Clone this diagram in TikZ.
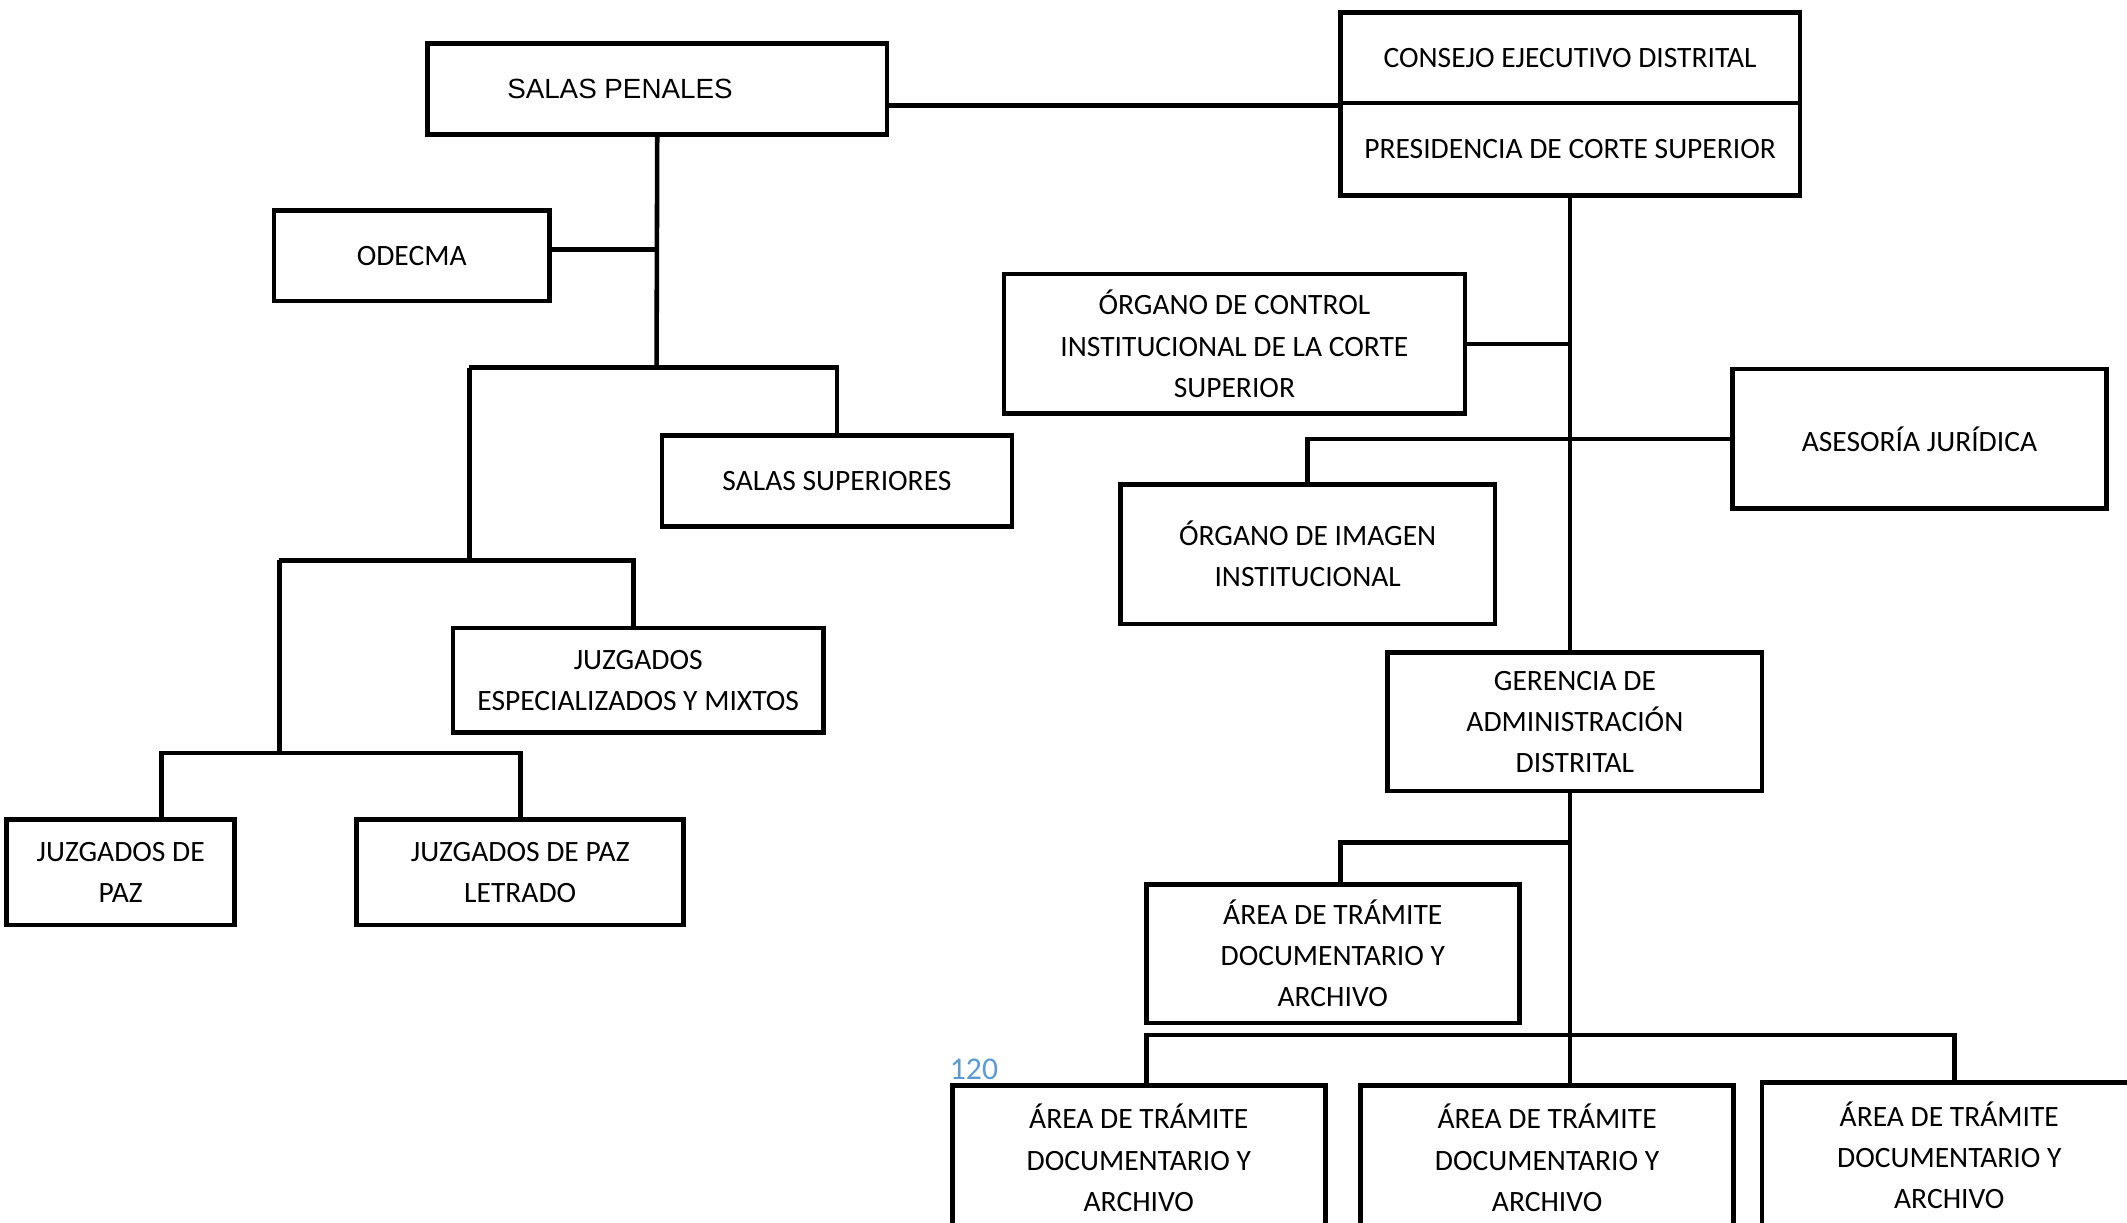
\documentclass[tikz,border=0pt]{standalone}
\usepackage{fontspec}
\setmainfont{Carlito}
\newfontfamily\arialf{Liberation Sans}
\newdimen\px \px=0.013565cm
\definecolor{numblue}{HTML}{5B9BD5}
\tikzset{
  box/.style={draw, line width=1.3pt, inner sep=0pt, align=center,
    font=\fontsize{8.4}{11.7}\selectfont},
  conn/.style={line width=1.3pt},
}
\begin{document}
\begin{tikzpicture}[x=0.013565cm,y=-0.013565cm]
\useasboundingbox (0,0) rectangle (1568,901);
\begin{scope}
\clip (0,0) rectangle (1568,901);
% left side
\node[box, minimum width=339\px, minimum height=67\px, font=\arialf\fontsize{7.9}{10}\selectfont]
  (sp) at (484.5,65.5) {SALAS PENALES\hspace*{55\px}};
\node[box, minimum width=203\px, minimum height=67\px] (od) at (303.5,188.5) {ODECMA};
\node[box, minimum width=258\px, minimum height=67\px] (ss) at (617,354.5) {SALAS SUPERIORES};
\node[box, minimum width=273\px, minimum height=77\px] (jem) at (470.5,501.5) {JUZGADOS\\ESPECIALIZADOS Y MIXTOS};
\node[box, minimum width=168\px, minimum height=78\px] (jp) at (89,643) {JUZGADOS DE\\PAZ\hspace*{0pt}};
\node[box, minimum width=241\px, minimum height=78\px] (jpl) at (383.5,643) {JUZGADOS DE PAZ\\LETRADO};
% right side
\node[box, minimum width=339\px, minimum height=67\px] (ced) at (1157.5,42.5) {CONSEJO EJECUTIVO DISTRITAL};
\node[box, minimum width=339\px, minimum height=68\px] (pcs) at (1157.5,110) {PRESIDENCIA DE CORTE SUPERIOR};
\node[box, minimum width=340\px, minimum height=103\px] (oci) at (910,253.5) {ÓRGANO DE CONTROL\\INSTITUCIONAL DE LA CORTE\\SUPERIOR};
\node[box, minimum width=276\px, minimum height=103\px] (aj) at (1415,323.5) {ASESORÍA JURÍDICA};
\node[box, minimum width=276\px, minimum height=103\px] (oii) at (964,408.5) {ÓRGANO DE IMAGEN\\INSTITUCIONAL};
\node[box, minimum width=276\px, minimum height=102\px] (gad) at (1161,532) {GERENCIA DE\\ADMINISTRACIÓN\\DISTRITAL};
\node[box, minimum width=275\px, minimum height=102\px] (at1) at (982.5,703) {ÁREA DE TRÁMITE\\DOCUMENTARIO Y\\ARCHIVO};
\node[box, minimum width=275\px, minimum height=107\px] (at2) at (839.5,853.5) {ÁREA DE TRÁMITE\\DOCUMENTARIO Y\\ARCHIVO};
\node[box, minimum width=275\px, minimum height=107\px] (at3) at (1140.5,853.5) {ÁREA DE TRÁMITE\\DOCUMENTARIO Y\\ARCHIVO};
\node[box, minimum width=276\px, minimum height=107\px] (at4) at (1437,851.5) {ÁREA DE TRÁMITE\\DOCUMENTARIO Y\\ARCHIVO};
\node[text=numblue, font=\fontsize{9}{10}\selectfont, inner sep=0pt] (pg) at (718,788) {120};
% junction coordinates
\coordinate (b1) at (484,271);
\coordinate (b2) at (346,271);
\coordinate (b3) at (346,413);
\coordinate (b4) at (206,413);
\coordinate (b5) at (206,555);
\coordinate (c6) at (119,555);
\coordinate (c7) at (1159,621);
\coordinate (c8L) at (845,763);
\coordinate (c8R) at (1441,763);
\coordinate (jl) at (467,413);
% connectors left
\draw[conn] (sp.east |- ced.south west) -- (ced.south west);
\draw[conn] (sp.south) -- (b1);
\draw[conn] (od.east |- 0,184) -- (sp.south |- 0,184);
\draw[conn] (b2) -| (ss.north);
\draw[conn] (b2) -- (b3);
\draw[conn] (b4) -- (jl) -- (jem.north -| jl);
\draw[conn] (b4) -- (b5);
\draw[conn] (jp.north -| c6) -- (c6) -| (jpl.north);
% connectors right
\draw[conn] (pcs.south) -- (pcs.south |- gad.north);
\draw[conn] (pcs.south |- gad.south) -- (pcs.south |- at3.north);
\draw[conn] (oci.east) -- (oci.east -| pcs.south);
\draw[conn] (oii.north) |- (aj.west);
\draw[conn] (at1.north -| 988,0) |- (c7);
\draw[conn] (at2.north -| c8L) -- (c8L) -- (c8R) -- (at4.north -| c8R);
\end{scope}
\end{tikzpicture}
\end{document}
